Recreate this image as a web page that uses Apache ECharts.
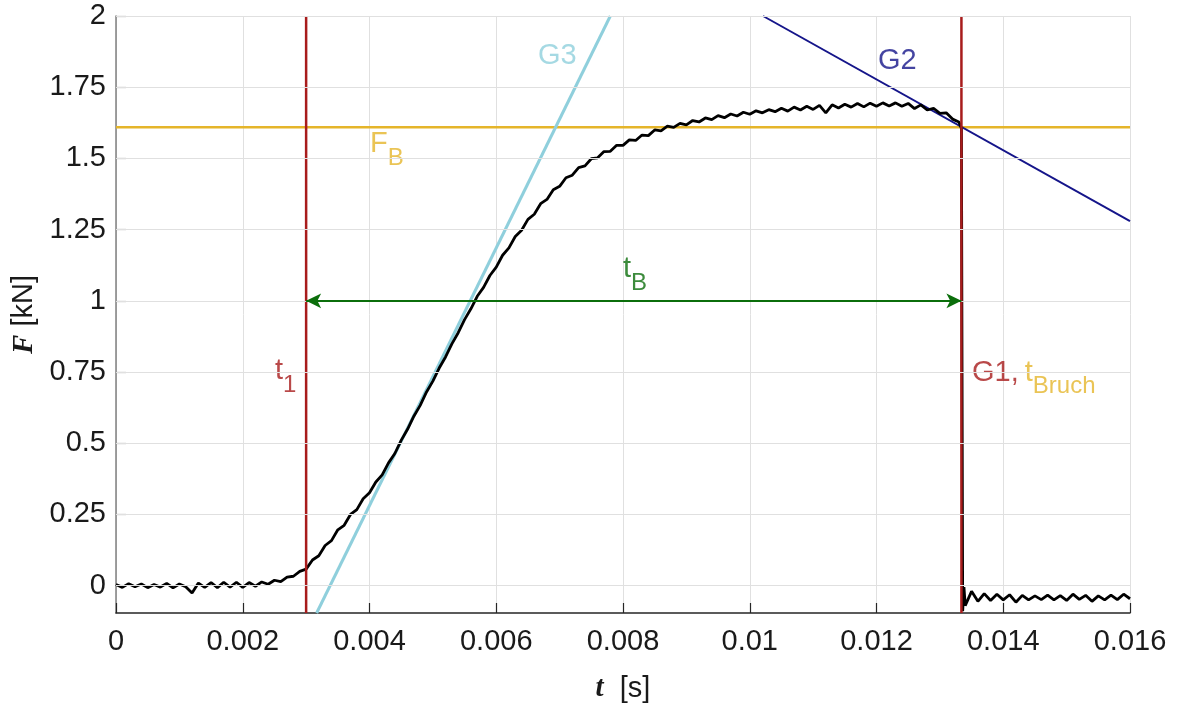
<!DOCTYPE html>
<html><head><meta charset="utf-8">
<script src="https://cdn.jsdelivr.net/npm/echarts@6/dist/echarts.min.js"></script>
<style>html,body{margin:0;padding:0;background:#fff}#c{width:1177px;height:706px}</style>
</head><body><div id="c"></div>
<script>
// ---- tick labels ----
const xTicks = [0, 0.002, 0.004, 0.006, 0.008, 0.01, 0.012, 0.014, 0.016];
const yTicks = [0, 0.25, 0.5, 0.75, 1, 1.25, 1.5, 1.75, 2];
const yMin = -0.096, yMax = 2;

// ---- measured force signal [t (s), F (kN)] ----
const signal = [
 [0,0.004],[0.0001,-0.006],[0.0002,0.007],[0.0003,-0.004],[0.0004,0.006],[0.0005,-0.007],[0.0006,0.004],
 [0.0007,-0.005],[0.0008,0.008],[0.0009,-0.008],[0.0010,0.006],[0.0011,-0.004],[0.0012,-0.026],[0.0013,0.009],
 [0.0014,-0.006],[0.0015,0.011],[0.0016,-0.007],[0.0017,0.012],[0.0018,-0.005],[0.0019,0.012],[0.0020,-0.006],
 [0.0021,0.011],[0.0022,-0.002],[0.0023,0.013],[0.0024,0.005],[0.0025,0.019],[0.0026,0.014],[0.0027,0.030],
 [0.0028,0.033],[0.0029,0.050],[0.0030,0.058],
 [0.0031,0.090],[0.0032,0.105],[0.0033,0.141],[0.0034,0.158],[0.0035,0.196],[0.0036,0.212],[0.0037,0.250],
 [0.0038,0.267],[0.0039,0.305],[0.0040,0.326],[0.0041,0.364],[0.0042,0.389],[0.0043,0.431],[0.0044,0.464],
 [0.0045,0.510],[0.0046,0.549],[0.0047,0.595],[0.0048,0.633],[0.0049,0.680],[0.0050,0.718],[0.0051,0.764],
 [0.0052,0.803],[0.0053,0.849],[0.0054,0.888],[0.0055,0.934],[0.0056,0.972],[0.0057,1.016],[0.0058,1.047],
 [0.0059,1.089],[0.0060,1.118],[0.0061,1.160],[0.0062,1.186],[0.0063,1.226],[0.0064,1.248],[0.0065,1.286],
 [0.0066,1.304],[0.0067,1.341],[0.0068,1.356],[0.0069,1.390],[0.0070,1.402],[0.0071,1.432],[0.0072,1.441],
 [0.0073,1.468],[0.0074,1.474],[0.0075,1.499],[0.0076,1.502],[0.0077,1.524],[0.0078,1.525],[0.0079,1.546],
 [0.0080,1.546],[0.0081,1.565],[0.0082,1.563],[0.0083,1.582],[0.0084,1.580],[0.0085,1.600],[0.0086,1.597],
 [0.0087,1.613],[0.0088,1.609],[0.0089,1.623],[0.0090,1.618],[0.0091,1.633],[0.0092,1.628],[0.0093,1.642],
 [0.0094,1.636],[0.0095,1.650],[0.0096,1.643],[0.0097,1.656],[0.0098,1.649],[0.0099,1.662],[0.0100,1.655],
 [0.0101,1.667],[0.0102,1.660],[0.0103,1.671],[0.0104,1.664],[0.0105,1.676],[0.0106,1.666],[0.0107,1.680],
 [0.0108,1.670],[0.0109,1.683],[0.0110,1.672],[0.0111,1.686],[0.0112,1.660],[0.0113,1.688],[0.0114,1.677],
 [0.0115,1.690],[0.0116,1.680],[0.0117,1.693],[0.0118,1.681],[0.0119,1.694],[0.0120,1.683],[0.0121,1.695],
 [0.0122,1.684],[0.0123,1.695],[0.0124,1.683],[0.0125,1.693],[0.0126,1.675],[0.0127,1.688],[0.0128,1.670],
 [0.0129,1.676],[0.0130,1.658],[0.0131,1.660],[0.0132,1.638],[0.0133,1.628],[0.01334,1.605],
 [0.01336,-0.090],[0.01338,-0.005],[0.0134,-0.070],[0.0135,-0.020],[0.0136,-0.055],[0.0137,-0.028],
 [0.0138,-0.052],[0.0139,-0.030],[0.0140,-0.050],[0.0141,-0.032],[0.0142,-0.058],[0.0143,-0.034],
 [0.0144,-0.050],[0.0145,-0.036],[0.0146,-0.049],[0.0147,-0.033],[0.0148,-0.050],[0.0149,-0.035],
 [0.0150,-0.052],[0.0151,-0.030],[0.0152,-0.048],[0.0153,-0.034],[0.0154,-0.055],[0.0155,-0.036],
 [0.0156,-0.050],[0.0157,-0.033],[0.0158,-0.049],[0.0159,-0.030],[0.0160,-0.046]
];

// ---- construction lines ----
const t1 = 0.003;          // start time
const tBruch = 0.01334;    // break time (G1)
const FB = 1.609;          // breaking force
const G3 = [[0.003166, -0.096], [0.0078, 2]];
const G2 = [[0.01021, 2], [0.016, 1.28]];
const arrowF = 1;

// ---- annotations: [t, F, rich text] ----
const annotations = [
  [0.006659, 1.859, '{c|G3}'],
  [0.012024, 1.841, '{n|G2}'],
  [0.004008, 1.550, '{y|F}{ys|B}'],
  [0.002509, 0.752, '{r|t}{rs|1}'],
  [0.008000, 1.110, '{g|t}{gs|B}'],
  [0.013507, 0.748, '{r|G1,}{yt|t}{ys|Bruch}']
];

const RED = '#a81c1c', YEL = '#e5b52a', CYA = '#8fcfdc', NAVY = '#15158a', GRN = '#0b6e0b';
const FONT = '"Liberation Sans", Arial, sans-serif';
const FS = 29, SFS = 24, SUBPAD = [28, 0, 0, 0];

function tok(color, size, pad) {
  const o = { color: color, fontSize: size, fontFamily: FONT, textBorderWidth: 0, textShadowBlur: 0 };
  if (pad) o.padding = pad;
  return o;
}

const chart = echarts.init(document.getElementById('c'));
chart.setOption({
  animation: false,
  backgroundColor: '#fff',
  grid: { left: 116, right: 47, top: 16, bottom: 93, containLabel: false, outerBoundsMode: 'none' },
  xAxis: {
    type: 'value', min: 0, max: 0.016, interval: 0.002,
    axisLine: { show: true, onZero: false, lineStyle: { color: '#262626', width: 1.5 } },
    axisTick: { show: true, inside: true, length: 10, lineStyle: { color: '#262626', width: 1.2 } },
    axisLabel: { fontSize: FS, color: '#1a1a1a', margin: 14, fontFamily: FONT, showMinLabel: true, showMaxLabel: true },
    splitLine: { show: true, lineStyle: { color: '#e0e0e0', width: 1 } },
    name: '{v|t}  [s]', nameLocation: 'middle', nameGap: 61,
    nameTextStyle: { fontSize: FS, color: '#1a1a1a', fontFamily: FONT,
      rich: { v: { fontFamily: '"Liberation Serif", "DejaVu Serif", serif', fontStyle: 'italic', fontWeight: 'bold', fontSize: FS, color: '#1a1a1a' } } }
  },
  yAxis: {
    type: 'value', min: yMin, max: yMax,
    axisLine: { show: true, onZero: false, lineStyle: { color: '#808080', width: 1.5 } },
    axisTick: { show: true, inside: true, length: 10, customValues: yTicks, lineStyle: { color: '#808080', width: 1.2 } },
    axisLabel: { fontSize: FS, color: '#1a1a1a', margin: 10, fontFamily: FONT, customValues: yTicks },
    splitLine: { show: false },
    name: '{v|F} [kN]', nameLocation: 'middle', nameGap: 76, nameRotate: 90,
    nameTextStyle: { fontSize: FS, color: '#1a1a1a', fontFamily: FONT,
      rich: { v: { fontFamily: '"Liberation Serif", "DejaVu Serif", serif', fontStyle: 'italic', fontWeight: 'bold', fontSize: FS, color: '#1a1a1a' } } }
  },
  series: [
    { // horizontal grid lines
      type: 'line', data: [], z: 0, silent: true,
      markLine: { silent: true, symbol: 'none', label: { show: false }, animation: false,
        lineStyle: { color: '#e0e0e0', width: 1, type: 'solid' },
        data: yTicks.map(v => ({ yAxis: v })) }
    },
    { // F_B
      type: 'line', data: [[0, FB], [0.016, FB]], showSymbol: false, silent: true,
      lineStyle: { color: YEL, width: 2.5 } },
    { type: 'line', data: G3, showSymbol: false, silent: true, lineStyle: { color: CYA, width: 3 } },
    { type: 'line', data: G2, showSymbol: false, silent: true, lineStyle: { color: NAVY, width: 2 } },
    { type: 'line', data: signal, showSymbol: false, silent: true, lineStyle: { color: '#000', width: 2.8 } },
    { type: 'line', data: [[t1, yMin], [t1, yMax]], showSymbol: false, silent: true, lineStyle: { color: RED, width: 2.5 } },
    { type: 'line', data: [[tBruch, yMin], [tBruch, yMax]], showSymbol: false, silent: true, lineStyle: { color: RED, width: 2.5 } },
    { // t_B arrow
      type: 'line', data: [], silent: true,
      markLine: { silent: true, symbol: ['arrow', 'arrow'], symbolSize: [11, 15], label: { show: false }, animation: false,
        lineStyle: { color: GRN, width: 2, type: 'solid' },
        data: [[{ coord: [t1, arrowF] }, { coord: [tBruch, arrowF] }]] }
    },
    { // text annotations
      type: 'scatter', symbolSize: 0, silent: true,
      itemStyle: { color: 'transparent' },
      data: annotations.map(a => ({ value: [a[0], a[1]], label: { formatter: a[2] } })),
      label: {
        show: true, position: 'right', distance: 0, align: 'left', verticalAlign: 'middle',
        fontFamily: FONT, fontSize: FS, textBorderWidth: 0,
        rich: {
          c: tok(CYA, FS), n: tok(NAVY, FS), y: tok(YEL, FS), ys: tok(YEL, SFS, SUBPAD),
          yt: tok(YEL, FS, [0, 0, 0, 6]), r: tok(RED, FS), rs: tok(RED, SFS, SUBPAD),
          g: tok(GRN, FS), gs: tok(GRN, SFS, SUBPAD)
        }
      }
    }
  ]
});
</script>
</body></html>
